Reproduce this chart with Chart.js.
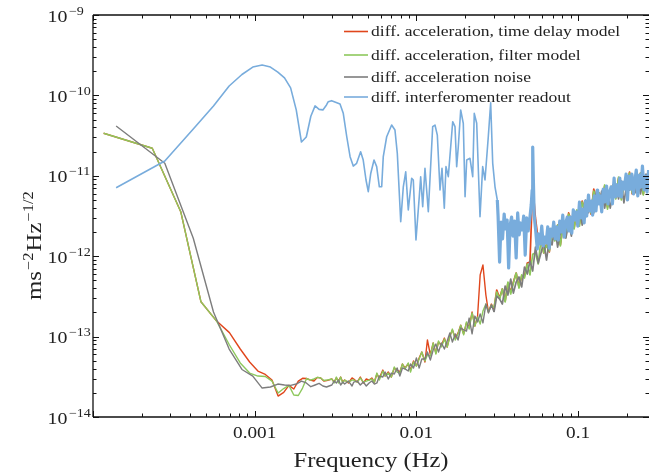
<!DOCTYPE html>
<html><head><meta charset="utf-8">
<script src="https://cdn.jsdelivr.net/npm/chart.js@4/dist/chart.umd.min.js"></script>
<style>html,body{margin:0;padding:0;background:#fff;}#wrap{width:649px;height:476px;}</style>
</head><body><div id="wrap"><canvas id="c" width="649" height="476"></canvas></div>
<script>
// ---------- data (frequency in Hz, ASD in m s^-2 Hz^-1/2) ----------
const seriesNames = ['diff. acceleration, time delay model','diff. acceleration, filter model','diff. acceleration noise','diff. interferomenter readout'];
const xTickValues = [0.001, 0.01, 0.1];
const xTickLabels = ['0.001', '0.01', '0.1'];
const yTickExponents = [-9, -10, -11, -12, -13, -14];

// low-frequency bins of the two acceleration models
const accelFreq = [1.163e-4, 2.326e-4, 3.489e-4, 4.652e-4, 5.815e-4, 6.978e-4, 8.141e-4, 9.304e-4, 1.047e-3, 1.163e-3,
  1.279e-3, 1.396e-3, 1.512e-3, 1.628e-3, 1.745e-3, 1.861e-3, 1.977e-3, 2.093e-3, 2.210e-3, 2.326e-3,
  2.442e-3, 2.559e-3, 2.675e-3, 2.791e-3];
const redLow = [3.38e-11, 2.2e-11, 3.58e-12, 2.71e-13, 1.56e-13, 1.12e-13, 7.01e-14, 4.83e-14, 3.73e-14, 3.38e-14,
  2.88e-14, 1.82e-14, 2.02e-14, 2.47e-14, 2.23e-14, 2.80e-14, 3.03e-14, 3.01e-14, 2.88e-14, 2.80e-14,
  3.11e-14, 3.06e-14, 2.80e-14, 2.83e-14];
const greenLow = [3.38e-11, 2.2e-11, 3.58e-12, 2.71e-13, 1.56e-13, 7.86e-14, 4.70e-14, 3.52e-14, 3.23e-14, 3.19e-14,
  2.80e-14, 1.99e-14, 2.26e-14, 2.47e-14, 1.88e-14, 1.85e-14, 2.29e-14, 3.01e-14, 2.88e-14, 2.97e-14,
  3.11e-14, 3.06e-14, 2.84e-14, 2.88e-14];

// low-frequency bins of the noise / readout spectra
const noiseFreq = [1.39e-4, 2.78e-4, 4.17e-4, 5.56e-4, 6.95e-4, 8.34e-4, 9.73e-4, 1.112e-3, 1.251e-3, 1.390e-3,
  1.529e-3, 1.668e-3, 1.807e-3, 1.946e-3, 2.085e-3, 2.224e-3, 2.363e-3, 2.502e-3, 2.641e-3, 2.780e-3];
const grayLow = [4.17e-11, 1.43e-11, 1.67e-12, 2.02e-13, 7.01e-14, 3.9e-14, 3.23e-14, 2.29e-14, 2.36e-14, 2.57e-14,
  2.50e-14, 2.47e-14, 2.57e-14, 2.80e-14, 2.65e-14, 2.38e-14, 2.50e-14, 2.62e-14, 2.43e-14, 2.36e-14];
const blueLow = [7.1e-12, 1.53e-11, 3.83e-11, 7.4e-11, 1.31e-10, 1.82e-10, 2.25e-10, 2.39e-10, 2.25e-10, 1.95e-10,
  1.65e-10, 1.24e-10, 6.6e-11, 2.63e-11, 3.04e-11, 5.5e-11, 7.4e-11, 6.7e-11, 6.6e-11, 7.6e-11];

// shared high-frequency grid for the acceleration curves
const hfFreq = [0.0030, 0.0031, 0.0032, 0.0033, 0.0034, 0.0035, 0.0036, 0.0038, 0.0040, 0.0041,
  0.0043, 0.0045, 0.0047, 0.0049, 0.0051, 0.0053, 0.0055, 0.0057, 0.0059, 0.0062,
  0.0064, 0.0067, 0.0070, 0.0073, 0.0076, 0.0079, 0.0082, 0.0085, 0.0089, 0.0092,
  0.0096, 0.0100, 0.0104, 0.0108, 0.0113, 0.0117, 0.0122, 0.0127, 0.0132, 0.0137,
  0.0143, 0.0149, 0.0155, 0.0161, 0.0167, 0.0174, 0.0181, 0.0188, 0.0196, 0.0204,
  0.0212, 0.0221, 0.0230, 0.0239, 0.0248, 0.0258, 0.0269, 0.0279, 0.0291, 0.0302,
  0.0314, 0.0327, 0.0340, 0.0354, 0.0368, 0.0383, 0.0398, 0.0414, 0.0431, 0.0448,
  0.0466, 0.0485, 0.0504, 0.0524, 0.0545, 0.0567, 0.0590, 0.0613, 0.0638, 0.0664,
  0.0690, 0.0718, 0.0747, 0.0777, 0.0808, 0.0840, 0.0874, 0.0909, 0.0945, 0.0983,
  0.102, 0.106, 0.111, 0.115, 0.120, 0.125, 0.130, 0.135, 0.140, 0.146,
  0.152, 0.158, 0.164, 0.171, 0.178, 0.185, 0.192, 0.200, 0.208, 0.216,
  0.225, 0.234, 0.243, 0.253, 0.263, 0.274];
const redHF = [2.97e-14, 2.72e-14, 3.06e-14, 2.80e-14, 3.14e-14, 2.72e-14, 2.88e-14, 2.65e-14, 3.06e-14, 2.97e-14,
  2.72e-14, 3.14e-14, 2.65e-14, 2.97e-14, 2.88e-14, 3.06e-14, 2.72e-14, 3.42e-14, 3.06e-14, 3.84e-14,
  3.23e-14, 3.63e-14, 3.14e-14, 4.07e-14, 3.84e-14, 3.63e-14, 4.56e-14, 4.07e-14, 4.56e-14, 3.84e-14,
  4.97e-14, 4.31e-14, 5.42e-14, 6.43e-14, 4.83e-14, 9.07e-14, 5.91e-14, 8.33e-14, 6.25e-14, 8.57e-14,
  7.86e-14, 9.60e-14, 7.43e-14, 1.02e-13, 1.21e-13, 9.60e-14, 1.11e-13, 1.39e-13, 1.08e-13, 1.48e-13,
  1.32e-13, 2.02e-13, 1.35e-13, 1.80e-13, 5.85e-13, 7.78e-13, 3.29e-13, 2.02e-13, 2.54e-13, 2.20e-13,
  3.80e-13, 3.02e-13, 3.91e-13, 2.77e-13, 4.64e-13, 3.59e-13, 4.77e-13, 6.18e-13, 4.14e-13, 5.68e-13,
  5.68e-13, 8.23e-13, 8.46e-13, 7.69e-12, 2.99e-12, 1.59e-12, 1.68e-12, 1.10e-12, 1.42e-12, 1.13e-12,
  2.06e-12, 1.59e-12, 2.44e-12, 1.38e-12, 2.44e-12, 1.84e-12, 3.45e-12, 2.74e-12, 2.24e-12, 3.65e-12,
  2.52e-12, 4.86e-12, 3.55e-12, 5.15e-12, 3.35e-12, 6.85e-12, 4.86e-12, 6.12e-12, 4.33e-12, 7.47e-12,
  4.09e-12, 6.47e-12, 7.69e-12, 5.30e-12, 9.39e-12, 5.30e-12, 7.90e-12, 6.85e-12, 1.11e-11, 5.94e-12,
  9.94e-12, 7.26e-12, 1.08e-11, 5.94e-12, 9.39e-12, 1.11e-11];
const greenHF = [2.97e-14, 2.65e-14, 3.14e-14, 2.65e-14, 3.14e-14, 2.65e-14, 2.88e-14, 2.72e-14, 2.88e-14, 2.88e-14,
  2.72e-14, 3.06e-14, 2.72e-14, 2.80e-14, 2.88e-14, 2.97e-14, 2.72e-14, 3.52e-14, 2.88e-14, 3.73e-14,
  3.23e-14, 3.52e-14, 3.14e-14, 4.19e-14, 3.63e-14, 3.52e-14, 4.56e-14, 3.96e-14, 4.70e-14, 3.63e-14,
  4.83e-14, 4.31e-14, 5.27e-14, 6.43e-14, 4.97e-14, 5.91e-14, 5.74e-14, 8.33e-14, 6.07e-14, 8.82e-14,
  7.43e-14, 9.34e-14, 7.43e-14, 9.89e-14, 1.24e-13, 9.07e-14, 1.08e-13, 1.39e-13, 1.05e-13, 1.52e-13,
  1.24e-13, 1.97e-13, 1.35e-13, 1.75e-13, 1.43e-13, 2.08e-13, 2.54e-13, 2.02e-13, 2.47e-13, 2.27e-13,
  3.59e-13, 2.94e-13, 3.91e-13, 2.70e-13, 4.77e-13, 3.39e-13, 4.64e-13, 6.18e-13, 4.02e-13, 5.85e-13,
  5.36e-13, 8.0e-13, 5.85e-13, 1.06e-12, 1.10e-12, 8.0e-13, 1.64e-12, 1.10e-12, 1.38e-12, 1.16e-12,
  1.94e-12, 1.55e-12, 2.44e-12, 1.34e-12, 2.52e-12, 1.73e-12, 3.35e-12, 2.74e-12, 2.18e-12, 3.76e-12,
  2.37e-12, 4.72e-12, 3.55e-12, 5.0e-12, 3.45e-12, 6.47e-12, 4.72e-12, 6.12e-12, 4.21e-12, 7.69e-12,
  3.86e-12, 6.28e-12, 7.69e-12, 5.15e-12, 9.66e-12, 5.0e-12, 7.69e-12, 6.85e-12, 1.08e-11, 6.12e-12,
  9.39e-12, 7.05e-12, 1.08e-11, 5.77e-12, 9.66e-12, 1.05e-11];
const grayHF = [2.50e-14, 2.80e-14, 2.65e-14, 2.88e-14, 2.50e-14, 2.72e-14, 2.57e-14, 2.80e-14, 2.43e-14, 2.72e-14,
  2.80e-14, 2.50e-14, 2.72e-14, 2.43e-14, 2.65e-14, 2.80e-14, 2.57e-14, 2.65e-14, 3.23e-14, 3.14e-14,
  3.63e-14, 2.97e-14, 3.52e-14, 3.42e-14, 4.07e-14, 3.23e-14, 4.07e-14, 3.96e-14, 3.73e-14, 4.56e-14,
  4.07e-14, 5.42e-14, 4.07e-14, 5.27e-14, 5.27e-14, 6.43e-14, 5.12e-14, 6.81e-14, 8.09e-14, 6.43e-14,
  8.33e-14, 7.01e-14, 8.82e-14, 1.11e-13, 8.57e-14, 1.08e-13, 9.07e-14, 1.28e-13, 1.21e-13, 1.17e-13,
  1.70e-13, 1.08e-13, 1.80e-13, 1.52e-13, 1.91e-13, 1.48e-13, 2.54e-13, 1.97e-13, 2.47e-13, 2.02e-13,
  3.20e-13, 2.94e-13, 2.54e-13, 4.26e-13, 3.29e-13, 5.20e-13, 3.48e-13, 4.77e-13, 5.51e-13, 4.14e-13,
  7.34e-13, 6.00e-13, 8.71e-13, 6.54e-13, 1.30e-12, 8.23e-13, 1.10e-12, 1.50e-12, 8.96e-13, 1.64e-12,
  1.38e-12, 2.31e-12, 1.30e-12, 1.94e-12, 2.52e-12, 1.68e-12, 2.59e-12, 1.78e-12, 3.55e-12, 2.99e-12,
  4.09e-12, 2.44e-12, 5.0e-12, 3.45e-12, 4.59e-12, 3.45e-12, 6.66e-12, 4.46e-12, 6.47e-12, 3.97e-12,
  6.28e-12, 3.97e-12, 5.94e-12, 7.90e-12, 5.15e-12, 8.61e-12, 4.59e-12, 7.90e-12, 6.66e-12, 1.05e-11,
  6.12e-12, 9.66e-12, 5.94e-12, 8.87e-12, 1.05e-11, 7.26e-12];

// interferometer readout, mid and high frequency
const ifoMidFreq = [2.85e-3, 2.99e-3, 3.22e-3, 3.37e-3, 3.53e-3, 3.71e-3, 3.89e-3, 4.07e-3, 4.27e-3, 4.52e-3,
  4.69e-3, 4.88e-3, 5.04e-3, 5.22e-3, 5.47e-3, 5.68e-3, 5.90e-3, 6.10e-3, 6.24e-3, 6.55e-3,
  7.03e-3, 7.37e-3, 7.62e-3, 8.00e-3, 8.30e-3, 8.59e-3, 8.91e-3, 9.35e-3, 9.57e-3, 9.94e-3,
  1.042e-2, 1.063e-2, 1.094e-2, 1.130e-2, 1.185e-2, 1.261e-2, 1.303e-2, 1.347e-2, 1.40e-2, 1.44e-2,
  1.488e-2, 1.524e-2, 1.575e-2, 1.677e-2, 1.733e-2, 1.775e-2, 1.816e-2, 1.879e-2, 1.950e-2, 2.00e-2,
  2.047e-2, 2.145e-2, 2.23e-2, 2.28e-2, 2.36e-2, 2.474e-2, 2.57e-2, 2.656e-2, 2.784e-2, 2.88e-2,
  2.965e-2, 3.063e-2, 3.165e-2];
const blueMid = [8.35e-11, 8.6e-11, 8.1e-11, 7.82e-11, 5.98e-11, 3.06e-11, 1.73e-11, 1.32e-11, 1.43e-11, 1.99e-11,
  1.57e-11, 8.87e-12, 6.34e-12, 1.07e-11, 1.57e-11, 1.30e-11, 7.3e-12, 7.3e-12, 1.73e-11, 3.06e-11,
  4.28e-11, 3.71e-11, 1.905e-11, 2.69e-12, 7.3e-12, 1.12e-11, 3.76e-12, 9.33e-12, 8.87e-12, 1.59e-12,
  5.5e-12, 9.75e-12, 4.13e-12, 1.24e-11, 3.58e-12, 4.08e-11, 4.28e-11, 3.21e-11, 6.65e-12, 1.24e-11,
  3.94e-12, 1.30e-11, 9.75e-12, 4.71e-11, 4.08e-11, 1.30e-11, 2.30e-11, 6.58e-11, 4.5e-11, 5.5e-12,
  1.57e-11, 1.65e-11, 9.75e-12, 5.98e-11, 4.5e-11, 3.1e-12, 1.30e-11, 8.87e-12, 3.06e-11, 8.1e-11,
  1.43e-11, 7.3e-12, 5.0e-12];
const ifoHighFreq = [0.0320, 0.0327, 0.0334, 0.0341, 0.0349, 0.0356, 0.0364, 0.0372, 0.0380, 0.0388,
  0.0396, 0.0405, 0.0414, 0.0423, 0.0432, 0.0441, 0.0451, 0.0461, 0.0471, 0.0481,
  0.0491, 0.0502, 0.0513, 0.0520, 0.0524, 0.0529, 0.0535, 0.0547, 0.0559, 0.0571,
  0.0583, 0.0596, 0.0609, 0.0622, 0.0635, 0.0649, 0.0663, 0.0677, 0.0692, 0.0707,
  0.0722, 0.0738, 0.0754, 0.0770, 0.0787, 0.0804, 0.0821, 0.0839, 0.0857, 0.0876,
  0.0895, 0.0914, 0.0934, 0.0954, 0.0975, 0.0996, 0.102, 0.104, 0.106, 0.109,
  0.111, 0.113, 0.116, 0.118, 0.121, 0.123, 0.126, 0.129, 0.132, 0.134,
  0.137, 0.140, 0.143, 0.146, 0.150, 0.153, 0.156, 0.160, 0.163, 0.167,
  0.170, 0.174, 0.178, 0.181, 0.185, 0.189, 0.193, 0.198, 0.202, 0.206,
  0.211, 0.215, 0.220, 0.225, 0.229, 0.234, 0.240, 0.245, 0.250, 0.256,
  0.261, 0.267, 0.273];
const blueHF = [3.16e-12, 8.46e-13, 2.66e-12, 1.64e-12, 3.35e-12, 2.18e-12, 2.82e-12, 7.14e-13, 2.44e-12, 3.07e-12,
  1.78e-12, 2.74e-12, 9.50e-13, 3.45e-12, 1.84e-12, 2.59e-12, 2.12e-12, 3.16e-12, 1.03e-12, 2.99e-12,
  2.06e-12, 2.82e-12, 4.33e-12, 6.66e-12, 2.28e-11, 8.87e-12, 3.25e-12, 2.06e-12, 1.23e-12, 1.89e-12,
  1.42e-12, 2.37e-12, 1.34e-12, 1.73e-12, 1.46e-12, 2.31e-12, 1.26e-12, 2.18e-12, 1.78e-12, 2.66e-12,
  1.64e-12, 2.31e-12, 1.59e-12, 2.74e-12, 2.0e-12, 3.25e-12, 1.73e-12, 2.59e-12, 3.07e-12, 2.06e-12,
  3.07e-12, 1.94e-12, 3.76e-12, 2.82e-12, 3.55e-12, 2.37e-12, 4.72e-12, 2.99e-12, 3.86e-12, 2.59e-12,
  4.86e-12, 3.16e-12, 5.77e-12, 3.65e-12, 4.86e-12, 3.25e-12, 5.62e-12, 3.65e-12, 6.66e-12, 4.46e-12,
  5.62e-12, 3.55e-12, 6.85e-12, 4.72e-12, 7.47e-12, 4.46e-12, 6.12e-12, 7.26e-12, 4.46e-12, 9.39e-12,
  5.45e-12, 7.69e-12, 5.62e-12, 9.39e-12, 5.45e-12, 8.37e-12, 6.85e-12, 1.05e-11, 5.0e-12, 9.94e-12,
  6.85e-12, 1.05e-11, 5.94e-12, 8.87e-12, 1.18e-11, 5.62e-12, 1.02e-11, 7.26e-12, 1.32e-11, 6.66e-12,
  9.94e-12, 6.28e-12, 1.18e-11];

// ---------- chart ----------
const colors = ['#e0461c', '#8dc85c', '#7d7d7d', '#78acdc'];
const FONT = '"Liberation Serif", "DejaVu Serif", serif';
function pts(fs, vs) { return fs.map((f, i) => ({ x: f, y: vs[i] })); }
// thicker strokes where the spectra become dense bands
const bandWidth = (fMin, w) => ({ borderWidth: c => (c.p0.parsed.x > fMin ? w : undefined) });

const datasets = [
  { label: seriesNames[0], data: pts(accelFreq.concat(hfFreq), redLow.concat(redHF)), borderColor: colors[0], order: 3, segment: bandWidth(0.03, 1.7) },
  { label: seriesNames[1], data: pts(accelFreq.concat(hfFreq), greenLow.concat(greenHF)), borderColor: colors[1], order: 2, segment: bandWidth(0.03, 1.7) },
  { label: seriesNames[2], data: pts(noiseFreq.concat(hfFreq), grayLow.concat(grayHF)), borderColor: colors[2], order: 1, segment: bandWidth(0.03, 1.7) },
  { label: seriesNames[3], data: pts(noiseFreq.concat(ifoMidFreq, ifoHighFreq), blueLow.concat(blueMid, blueHF)), borderColor: colors[3], order: 0, borderWidth: 1.6, segment: bandWidth(0.031, 3.2) }
].map(d => Object.assign({ showLine: true, pointRadius: 0, borderWidth: 1.4, tension: 0, fill: false, borderJoinStyle: 'round' }, d));

// text helper: Computer-Modern-like proportions (wider glyphs)
function txt(ctx, s, x, y, size, align, sx) {
  ctx.save();
  ctx.font = size + 'px ' + FONT;
  const w = ctx.measureText(s).width * sx;
  let x0 = x;
  if (align === 'center') x0 = x - w / 2; else if (align === 'right') x0 = x - w;
  ctx.translate(x0, y); ctx.scale(sx, 1);
  ctx.textAlign = 'left';
  ctx.fillText(s, 0, 0);
  ctx.restore();
  return w;
}

const frame = {
  id: 'frame',
  afterDraw(chart) {
    const ctx = chart.ctx, a = chart.chartArea, xs = chart.scales.x, ys = chart.scales.y;
    ctx.save();
    ctx.strokeStyle = '#111'; ctx.lineWidth = 1.3;
    ctx.beginPath();
    ctx.moveTo(a.left, a.top); ctx.lineTo(a.right + 2, a.top);
    ctx.moveTo(a.left, a.top); ctx.lineTo(a.left, a.bottom);
    ctx.moveTo(a.left, a.bottom); ctx.lineTo(a.right + 2, a.bottom);
    ctx.stroke();
    ctx.lineWidth = 1;
    ctx.beginPath();
    for (let k = -4; k <= 0; k++) {
      for (let m = 1; m <= 9; m++) {
        const v = m * Math.pow(10, k);
        if (v < xs.min * 0.999 || v > xs.max) continue;
        const px = Math.round(xs.getPixelForValue(v)) + 0.5;
        const L = m === 1 ? 6 : 3.5;
        ctx.moveTo(px, a.bottom); ctx.lineTo(px, a.bottom - L);
        ctx.moveTo(px, a.top); ctx.lineTo(px, a.top + L);
      }
    }
    for (let k = -14; k <= -9; k++) {
      for (let m = 1; m <= 9; m++) {
        const v = m * Math.pow(10, k);
        if (v < ys.min * 0.999 || v > ys.max * 1.001) continue;
        const py = Math.round(ys.getPixelForValue(v)) + 0.5;
        const L = m === 1 ? 6 : 3.5;
        ctx.moveTo(a.left, py); ctx.lineTo(a.left + L, py);
        ctx.moveTo(a.right, py); ctx.lineTo(a.right - L, py);
      }
    }
    ctx.stroke();
    ctx.fillStyle = '#222';
    ctx.textBaseline = 'alphabetic';
    xTickValues.forEach((v, i) => txt(ctx, xTickLabels[i], xs.getPixelForValue(v), 437.5, 17, 'center', 1.13));
    txt(ctx, 'Frequency (Hz)', (a.left + 649) / 2, 467, 20.5, 'center', 1.2);
    yTickExponents.forEach(e => {
      const py = ys.getPixelForValue(Math.pow(10, e));
      const w = txt(ctx, '10', 47.5, py + 6.5, 17, 'left', 1.17);
      txt(ctx, '\u2212' + Math.abs(e), 47.5 + w + 1.5, py - 0.5, 12, 'left', 1.17);
    });
    ctx.save();
    ctx.translate(41, 300);
    ctx.rotate(-Math.PI / 2);
    const parts = [['ms', 21, 0], ['\u22122', 14, -8], ['Hz', 21, 0], ['\u22121/2', 14, -8]];
    let x = 0;
    parts.forEach(p => { x += txt(ctx, p[0], x, p[2], p[1], 'left', 1.18) + 1; });
    ctx.restore();
    const rows = [31.5, 55, 77, 97];
    ctx.textBaseline = 'middle';
    seriesNames.forEach((n, i) => {
      ctx.strokeStyle = colors[i]; ctx.lineWidth = 1.6;
      ctx.beginPath(); ctx.moveTo(344, rows[i]); ctx.lineTo(368, rows[i]); ctx.stroke();
      ctx.fillStyle = '#222';
      txt(ctx, n, 371, rows[i] + 1, 14.5, 'left', 1.21);
    });
    ctx.restore();
  }
};

new Chart(document.getElementById('c'), {
  type: 'scatter',
  data: { datasets },
  options: {
    responsive: false, animation: false, devicePixelRatio: 1,
    layout: { padding: { left: 93, top: 15, right: 0, bottom: 59 } },
    plugins: { legend: { display: false }, tooltip: { enabled: false } },
    scales: {
      x: { type: 'logarithmic', min: 1e-4, max: 0.2745, display: false },
      y: { type: 'logarithmic', min: 1e-14, max: 1e-9, display: false }
    }
  },
  plugins: [frame]
});
</script></body></html>
